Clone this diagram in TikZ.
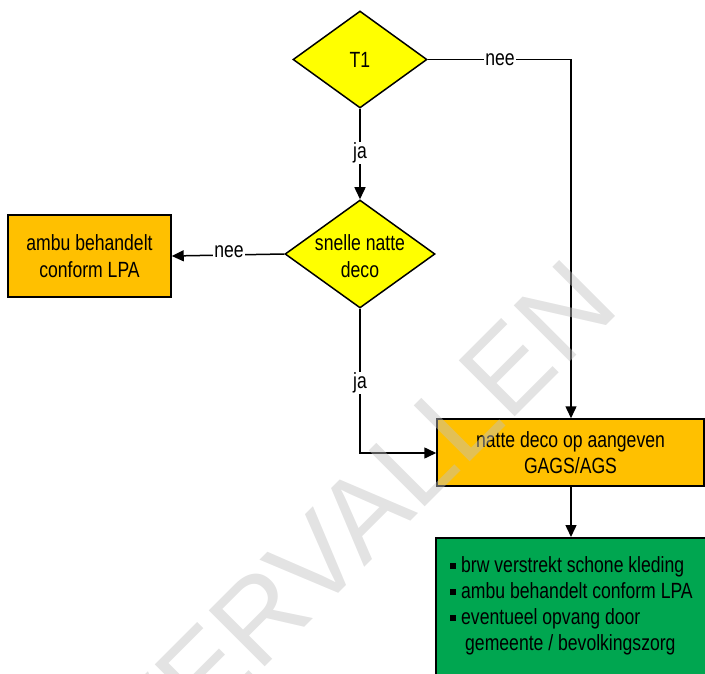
\documentclass[tikz,border=0pt]{standalone}
\usepackage{fontspec}
\setmainfont{Liberation Sans}[FakeStretch=0.8]
\newfontfamily\wmfont{Liberation Sans}
\usetikzlibrary{shapes.geometric,arrows.meta}
\definecolor{diayellow}{HTML}{FFFF00}
\definecolor{boxorange}{HTML}{FFC000}
\definecolor{boxgreen}{HTML}{00A650}
\definecolor{wmgray}{HTML}{C0C0C0}
\newcommand{\sqbul}{\raisebox{3pt}{\rule{6pt}{6pt}}\hspace{5pt}}
\begin{document}
\begin{tikzpicture}[x=1pt,y=-1pt,
  txt/.style={font=\fontsize{22}{26.5}\selectfont, align=center, inner sep=0pt},
  dia/.style={diamond, draw, line width=1.5pt, fill=diayellow, inner sep=0pt},
  obox/.style={rectangle, draw, line width=1.5pt, fill=boxorange, inner sep=0pt,
               font=\fontsize{22}{26.5}\selectfont, align=center},
  conn/.style={line width=1.5pt},
  arr/.style={conn, -{Triangle[length=12pt,width=11pt]}},
  lab/.style={fill=white, inner sep=1pt, font=\fontsize{22}{26.5}\selectfont}
]
\clip (0,0) rectangle (705,674);
\useasboundingbox (0,0) rectangle (705,674);

% diamonds
\node[dia, minimum width=134pt, minimum height=97pt] (t1) at (360,59.5) {};
\node[txt] (t1txt) at (t1.center) {T1};
\node[dia, minimum width=150pt, minimum height=108pt] (snd) at (360,254) {};
\node[txt] (sndtxt) at (360,256) {snelle natte\\deco};

% boxes
\node[obox, minimum width=163pt, minimum height=82pt] (amb) at (89.5,256) {ambu behandelt\\conform LPA};
\node[obox, minimum width=267pt, minimum height=67pt] (natte) at (570.5,452.5) {natte deco op aangeven\\GAGS/AGS};
\node[rectangle, draw, line width=1.5pt, fill=boxgreen, inner sep=0pt,
      minimum width=277pt, minimum height=153pt, anchor=north west] (green) at (435,537) {};
\node[font=\fontsize{22}{26}\selectfont, align=left, anchor=north west, inner sep=0pt]
  (greentxt) at (450,556) {\sqbul brw verstrekt schone kleding\\
  \sqbul ambu behandelt conform LPA\\
  \sqbul eventueel opvang door\\
  \hspace{15pt}gemeente / bevolkingszorg};

% connectors
\coordinate (c1) at (571,59.5);
\draw[conn] (t1.east) -- (c1);
\draw[arr] (c1) -- (c1 |- natte.north);
\node[lab] (nee1) at (500,59.5) {nee};

\draw[arr] (t1.south) -- (snd.north);
\node[lab] (ja1) at (360,153) {ja};

\draw[arr] (snd.west) -- (amb.east);
\node[lab] (nee2) at (229,252) {nee};

\coordinate (c2) at (360,453);
\draw[arr] (snd.south) -- (c2) -- (natte.west |- c2);
\node[lab] (ja2) at (360,383) {ja};

\draw[arr] (natte.south -| c1) -- (green.north -| c1);

% watermark
\node[rotate=45, text=wmgray, text opacity=0.45, inner sep=0pt,
      font=\wmfont\fontsize{115}{115}\selectfont] (wm) at (358,518) {VERVALLEN};
\end{tikzpicture}
\end{document}
